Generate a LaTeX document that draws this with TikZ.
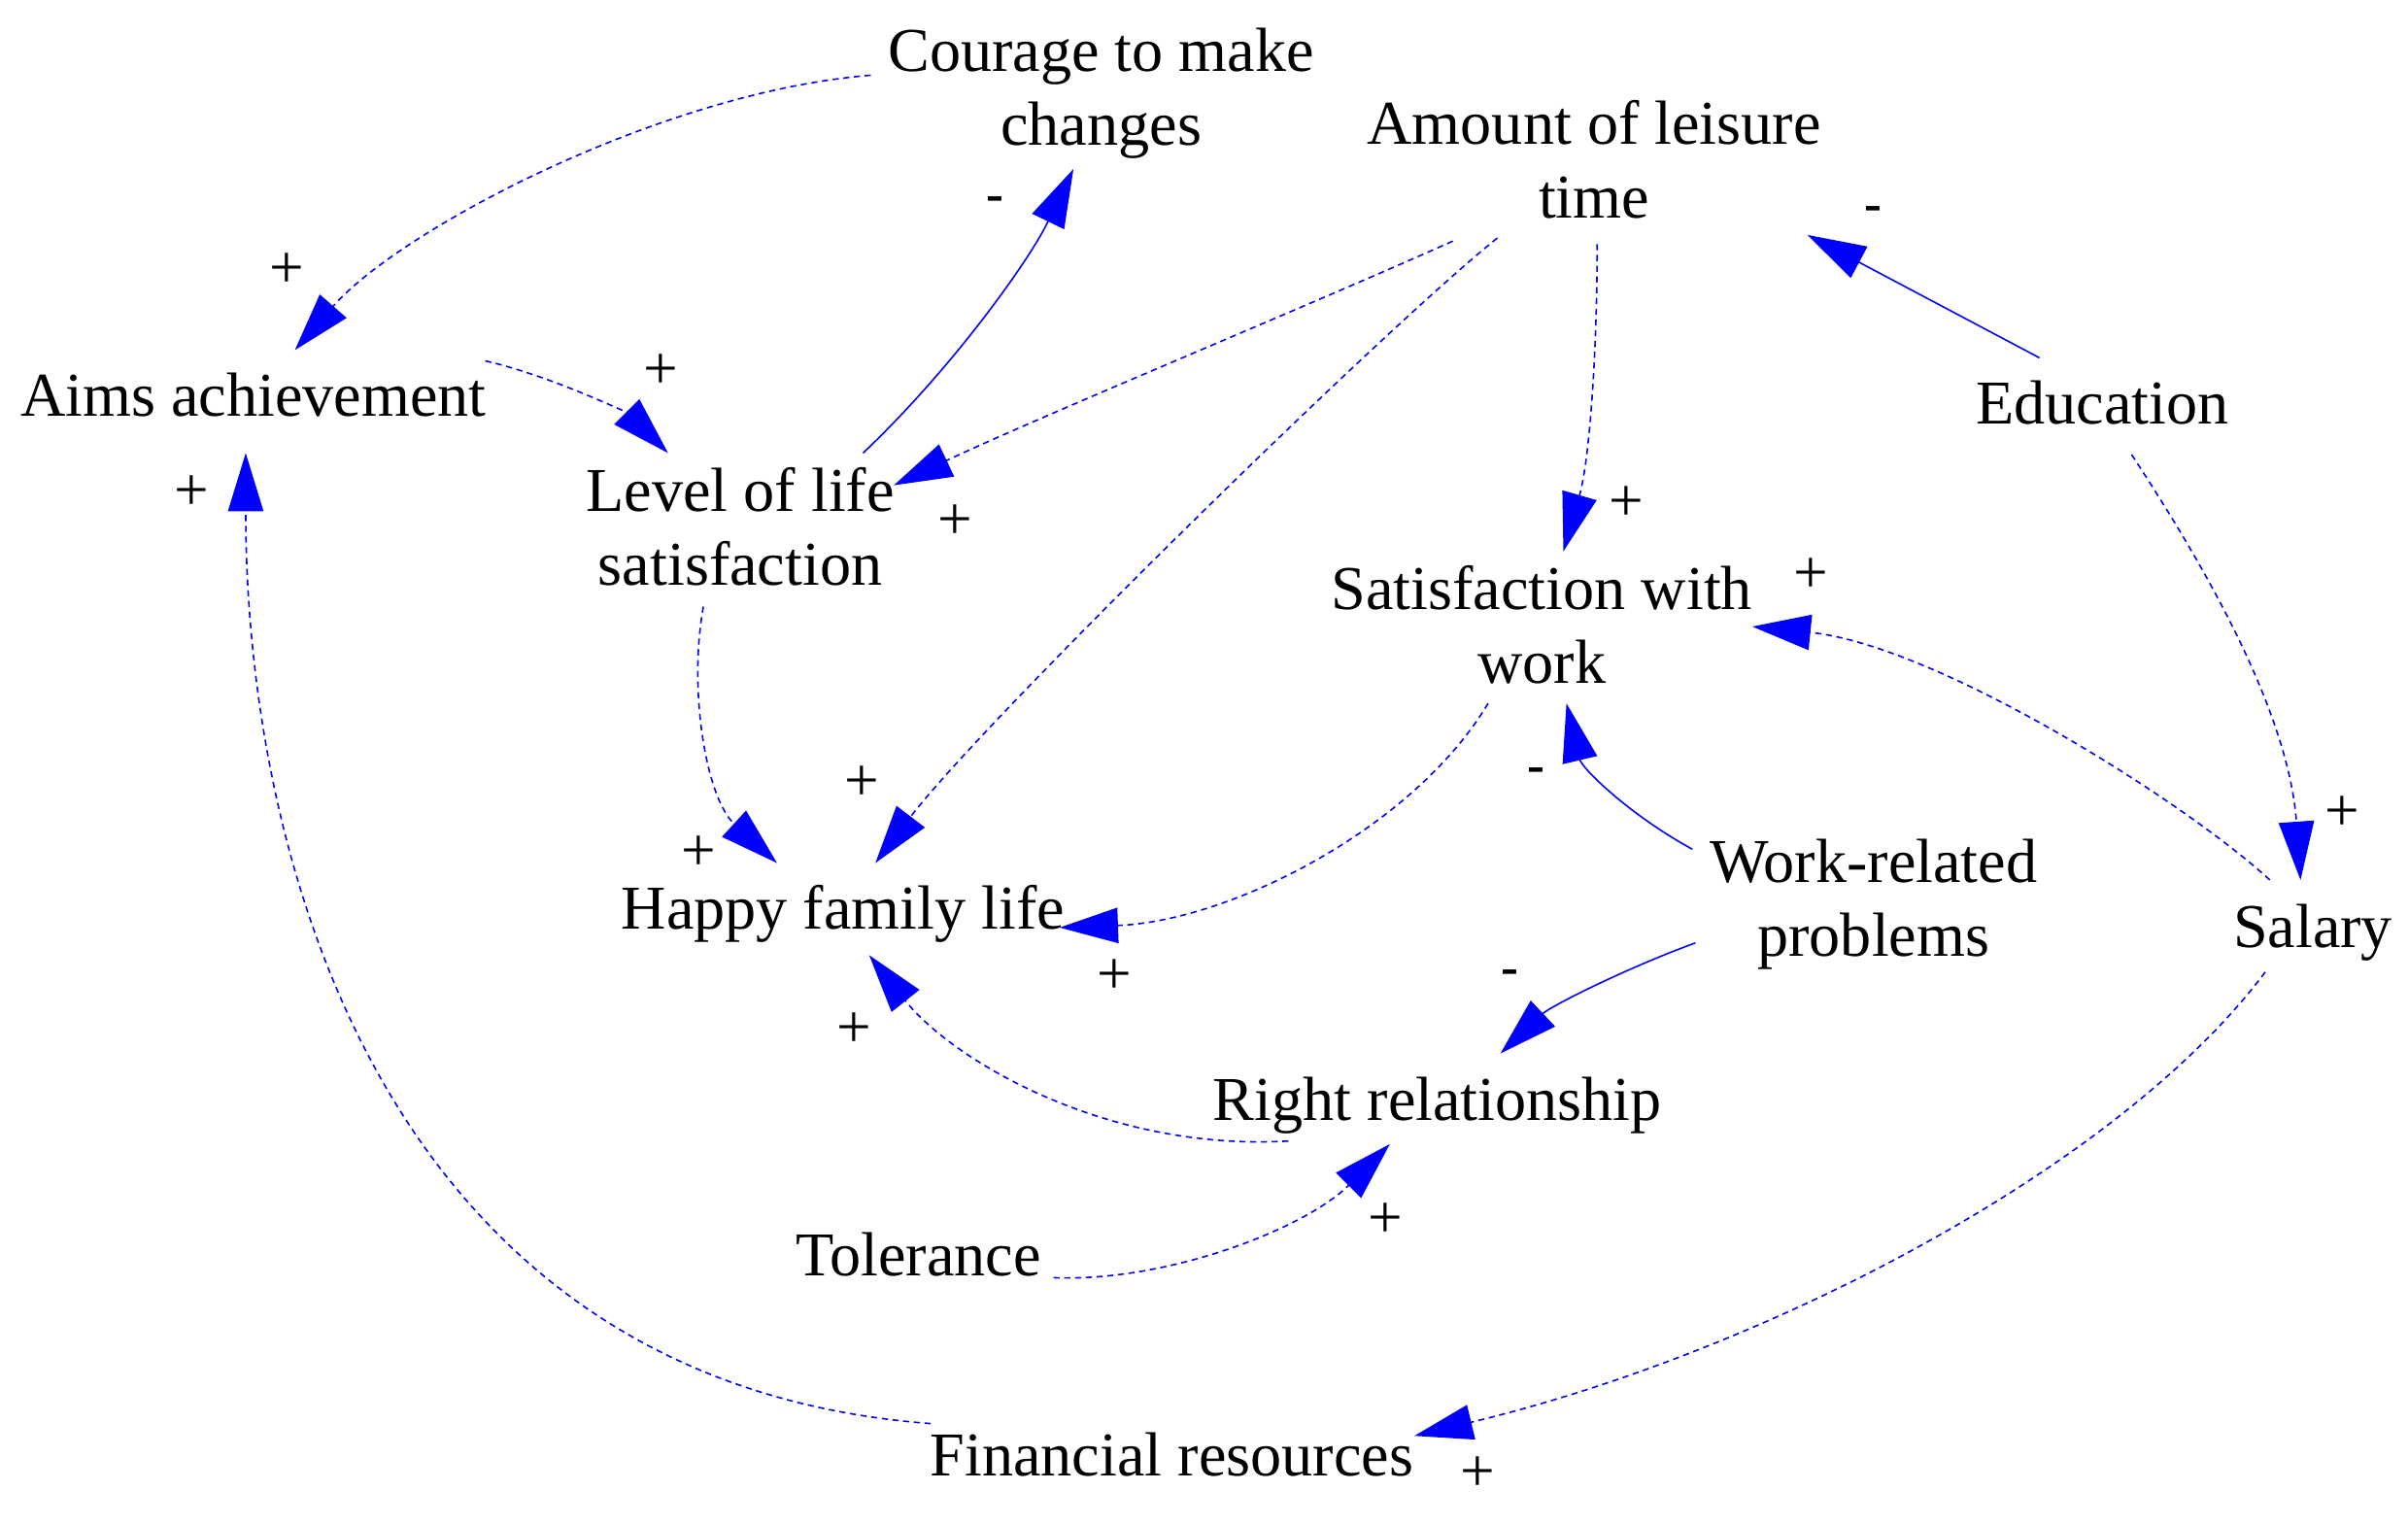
\documentclass[tikz,border=0pt]{standalone}
\usepackage{fontspec}
\setmainfont{Liberation Serif}
\usetikzlibrary{arrows.meta}
\definecolor{lnblue}{RGB}{0,0,255}
\begin{document}
\begin{tikzpicture}[x=0.5pt,y=-0.5pt,
  concept/.style={inner sep=0pt, align=center, font=\fontsize{20.3}{24}\selectfont},
  link/.style={draw=lnblue, line width=0.5pt, -{Triangle[length=19pt,width=11.5pt]}},
  poslink/.style={link, dash pattern=on 2pt off 1.5pt},
  neglink/.style={link},
  sign/.style={inner sep=0pt, font=\fontsize{20}{20}\selectfont},
  minus/.style={inner sep=0pt, font=\fontsize{17}{17}\selectfont\bfseries}
]
\useasboundingbox (0,0) rectangle (1568,992);
% concepts
\node[concept] (courage) at (717,61) {Courage to make\\changes};
\node[concept] (leisure) at (1038,104) {Amount of leisure\\time};
\node[concept] (aims) at (165,257) {Aims achievement};
\node[concept] (level) at (482,343) {Level of life\\satisfaction};
\node[concept] (educ) at (1369,262) {Education};
\node[concept] (satwork) at (1004,407) {Satisfaction with\\work};
\node[concept] (happy) at (549,595) {Happy family life};
\node[concept] (workrel) at (1220,589) {Work-related\\problems};
\node[concept] (salary) at (1506,607) {Salary};
\node[concept] (right) at (936,720) {Right relationship};
\node[concept] (toler) at (598,817) {Tolerance};
\node[concept] (fin) at (763,947) {Financial resources};
% links
\draw[poslink] ([shift={(-150,-12)}]courage.center) .. controls (430,60) and (260,150) .. ([shift={(27,-29)}]aims.center);
\draw[poslink] ([shift={(151,-22)}]aims.center) .. controls (360,245) and (410,270) .. ([shift={(-47,-48)}]level.center);
\draw[neglink] ([shift={(80,-48)}]level.center) .. controls (620,240) and (670,170) .. ([shift={(-18,49)}]courage.center);
\draw[poslink] ([shift={(-92,53)}]leisure.center) .. controls (850,200) and (680,270) .. ([shift={(100,-27)}]level.center);
\draw[poslink] ([shift={(-63,51)}]leisure.center) .. controls (900,215) and (640,470) .. ([shift={(21,-33)}]happy.center);
\draw[poslink] ([shift={(2,55)}]leisure.center) .. controls (1040,230) and (1035,300) .. ([shift={(14,-48)}]satwork.center);
\draw[neglink] ([shift={(-41,-29)}]educ.center) -- ([shift={(139,49)}]leisure.center);
\draw[poslink] ([shift={(19,34)}]educ.center) .. controls (1430,360) and (1490,460) .. ([shift={(-8,-34)}]salary.center);
\draw[poslink] ([shift={(-28,-34)}]salary.center) .. controls (1420,520) and (1260,420) .. ([shift={(137,1)}]satwork.center);
\draw[neglink] ([shift={(-118,-36)}]workrel.center) .. controls (1060,530) and (1030,500) .. ([shift={(16,51)}]satwork.center);
\draw[poslink] ([shift={(-35,51)}]satwork.center) .. controls (920,540) and (800,600) .. ([shift={(141,9)}]happy.center);
\draw[poslink] ([shift={(-24,52)}]level.center) .. controls (448,450) and (460,520) .. ([shift={(-43,-33)}]happy.center);
\draw[poslink] ([shift={(-97,23)}]right.center) .. controls (720,750) and (620,690) .. ([shift={(17,27)}]happy.center);
\draw[neglink] ([shift={(-116,25)}]workrel.center) .. controls (1060,630) and (1010,655) .. ([shift={(41,-34)}]right.center);
\draw[poslink] ([shift={(88,15)}]toler.center) .. controls (760,835) and (850,800) .. ([shift={(-31,25)}]right.center);
\draw[poslink] ([shift={(-31,26)}]salary.center) .. controls (1380,760) and (1150,880) .. ([shift={(158,-12)}]fin.center);
\draw[poslink] ([shift={(-157,-20)}]fin.center) .. controls (250,900) and (160,560) .. ([shift={(-5,38)}]aims.center);
% polarity signs
\node[sign] (s1) at (187,176) {+};
\node[sign] (s2) at (430,242) {+};
\node[minus] (s3) at (648,133) {-};
\node[sign] (s4) at (622,340) {+};
\node[sign] (s5) at (561,510) {+};
\node[sign] (s6) at (1059,328) {+};
\node[minus] (s7) at (1220,139) {-};
\node[sign] (s8) at (1525,530) {+};
\node[sign] (s9) at (1179,375) {+};
\node[minus] (s10) at (1000,505) {-};
\node[sign] (s11) at (726,636) {+};
\node[sign] (s12) at (455,556) {+};
\node[sign] (s13) at (556,671) {+};
\node[minus] (s14) at (983,636) {-};
\node[sign] (s15) at (902,795) {+};
\node[sign] (s16) at (962,960) {+};
\node[sign] (s17) at (125,321) {+};
\end{tikzpicture}
\end{document}
